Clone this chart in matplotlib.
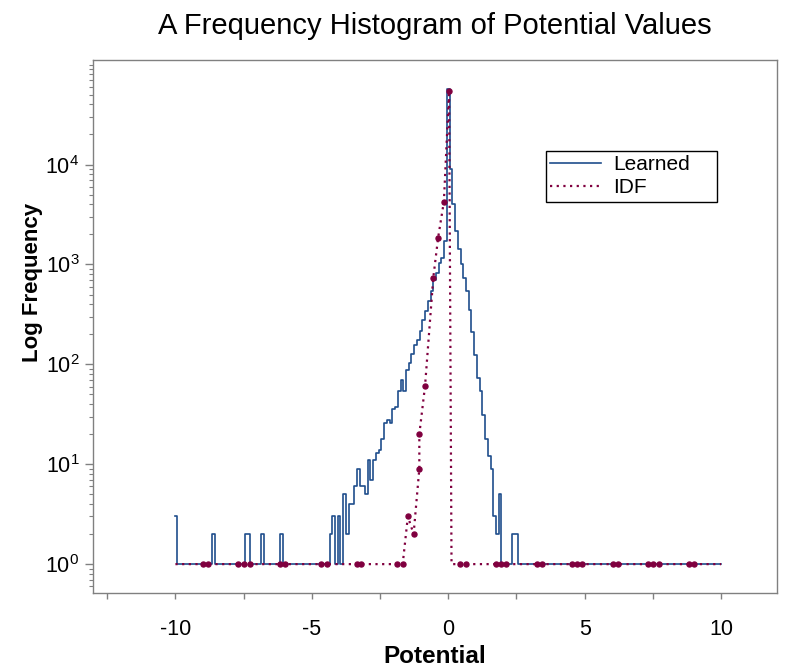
import numpy as np
import matplotlib
matplotlib.use("Agg")
import matplotlib.pyplot as plt
from matplotlib.ticker import LogLocator, NullFormatter, FixedLocator, LogFormatterSciNotation

plt.rcParams['font.family'] = ['Liberation Sans', 'DejaVu Sans']

# Learned potentials: histogram counts (+1) in bins of width 0.1, centres -10.0 .. 10.0
learned_x = np.round(np.linspace(-10, 10, 201), 1)
learned_counts = [
    3, 1, 1, 1, 1, 1, 1, 1, 1, 1,            # -10.0 .. -9.1
    1, 1, 1, 1, 2, 1, 1, 1, 1, 1,            # -9.0 .. -8.1
    1, 1, 1, 1, 1, 1, 2, 2, 1, 1,            # -8.0 .. -7.1
    1, 1, 2, 1, 1, 1, 1, 1, 1, 2,            # -7.0 .. -6.1
    1, 1, 1, 1, 1, 1, 1, 1, 1, 1,            # -6.0 .. -5.1
    1, 1, 1, 1, 1, 1, 1, 2, 3, 1,            # -5.0 .. -4.1
    3, 1, 5, 2, 4, 4, 6, 9, 6, 6,            # -4.0 .. -3.1
    5, 11, 7, 11, 13, 14, 18, 26, 28, 26,    # -3.0 .. -2.1
    36, 37, 54, 69, 54, 87, 104, 128, 155, 177,          # -2.0 .. -1.1
    218, 281, 340, 430, 540, 700, 815, 1030, 1150, 1700,  # -1.0 .. -0.1
    57000, 9100, 4000, 2140, 1420, 1010, 740, 540, 350, 210,  # 0.0 .. 0.9
    124, 73, 54, 31, 18, 12, 9, 3, 2, 5,     # 1.0 .. 1.9
    1, 1, 1, 1, 2, 2, 1, 1, 1, 1,            # 2.0 .. 2.9
    1, 1, 1, 1, 1, 1, 1, 1, 1, 1,
    1, 1, 1, 1, 1, 1, 1, 1, 1, 1,
    1, 1, 1, 1, 1, 1, 1, 1, 1, 1,
    1, 1, 1, 1, 1, 1, 1, 1, 1, 1,
    1, 1, 1, 1, 1, 1, 1, 1, 1, 1,
    1, 1, 1, 1, 1, 1, 1, 1, 1, 1,
    1, 1, 1, 1, 1, 1, 1, 1, 1, 1,            # 9.0 .. 9.9
    1,                                       # 10.0
]

# IDF potentials: points of the dotted curve, and which ones carry a dot
idf_x = [-10.0, -8.98, -8.80, -7.70, -7.49, -7.27, -6.17, -5.99, -4.68, -4.46,
         -3.36, -3.18, -1.87, -1.67, -1.48, -1.27, -1.06, -1.06, -0.85, -0.55,
         -0.37, -0.16, 0.03, 0.12, 0.43, 0.64, 1.74, 1.92, 2.12, 3.24,
         3.44, 4.53, 4.71, 4.89, 6.05, 6.23, 7.33, 7.52, 7.73, 8.84,
         9.02, 10.0]
idf_counts = [1, 1, 1, 1, 1, 1, 1, 1, 1, 1,
              1, 1, 1, 1, 3, 2, 9, 20, 61, 730,
              1860, 4260, 54500, 1, 1, 1, 1, 1, 1, 1,
              1, 1, 1, 1, 1, 1, 1, 1, 1, 1,
              1, 1]
idf_dotted = [False] + [True] * 22 + [False] + [True] * 17 + [False]

y_major = [1, 10, 100, 1000, 10000]
x_ticks = [-12.5, -10, -7.5, -5, -2.5, 0, 2.5, 5, 7.5, 10]
x_ticklabels = ['', '-10', '', '-5', '', '0', '', '5', '', '10']

blue = '#1f4e8c'
maroon = '#80003f'
grey = '#808080'

fig = plt.figure(figsize=(7.87, 6.67), dpi=100)
ax = fig.add_axes([0.1182, 0.1105, 0.8691, 0.7996])

ax.plot(learned_x, learned_counts, drawstyle='steps-mid', color=blue,
        lw=1.2, label='Learned')
ax.plot(idf_x, idf_counts, color=maroon, lw=1.6, linestyle=(0, (1, 2)),
        label='IDF')
mx = [x for x, m in zip(idf_x, idf_dotted) if m]
my = [y for y, m in zip(idf_counts, idf_dotted) if m]
ax.plot(mx, my, linestyle='none', marker='o', ms=3.6, color=maroon)

ax.set_yscale('log')
ax.set_xlim(-13.02, 12.05)
ax.set_ylim(10 ** -0.292, 10 ** 5.047)

ax.yaxis.set_major_locator(FixedLocator(y_major))
ax.yaxis.set_major_formatter(LogFormatterSciNotation())
ax.yaxis.set_minor_locator(LogLocator(base=10, subs=np.arange(1, 10), numticks=20))
ax.yaxis.set_minor_formatter(NullFormatter())

ax.set_xticks(x_ticks)
ax.set_xticklabels(x_ticklabels)

for s in ax.spines.values():
    s.set_color(grey)
    s.set_linewidth(1.0)
ax.tick_params(axis='x', which='major', direction='out', length=4.3, width=1,
               color=grey, pad=14, labelsize=15.5)
ax.tick_params(axis='y', which='major', direction='out', length=5.8, width=1,
               color=grey, pad=4, labelsize=15.5)
ax.tick_params(axis='y', which='minor', direction='out', length=3, width=0.8,
               color=grey)

ax.set_xlabel('Potential', fontsize=17.5, fontweight='bold', labelpad=4)
ax.set_ylabel('Log Frequency', fontsize=16, fontweight='bold')
ax.yaxis.set_label_coords(-0.073, 0.583)
ax.set_title('A Frequency Histogram of Potential Values', fontsize=21, pad=19)

leg = ax.legend(loc='upper left', bbox_to_anchor=(0.662, 0.70, 0.25, 0.129),
                mode='expand', borderaxespad=0,
                fontsize=15, fancybox=False, framealpha=1, edgecolor='black',
                handlelength=2.45, borderpad=0.2, labelspacing=0.2,
                handletextpad=0.6)
leg.get_frame().set_linewidth(1.0)

fig.savefig('out.png', dpi=100)
